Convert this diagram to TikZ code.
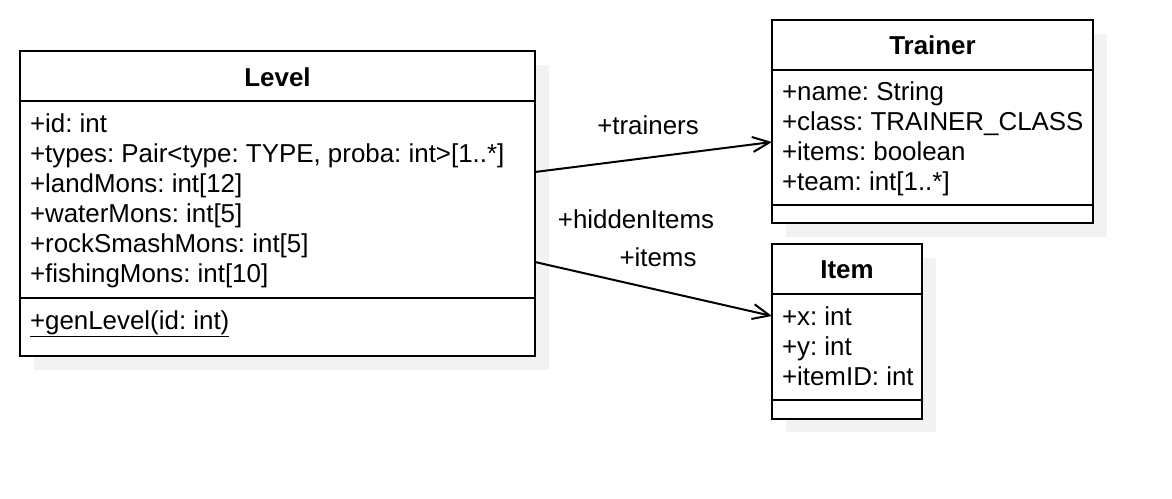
\documentclass[tikz,border=0pt]{standalone}
\usepackage{fontspec}
\setmainfont{Liberation Sans}
\frenchspacing
\usetikzlibrary{arrows.meta}
\begin{document}
\begin{tikzpicture}[x=1pt,y=-1pt,
  every node/.style={inner sep=0pt,outer sep=0pt,font=\fontsize{25.9}{30}\selectfont\frenchspacing},
  classbox/.style={draw=black,line width=2pt,fill=white,anchor=north west},
  shade/.style={fill=black!5,draw=none},
  divider/.style={line width=2pt},
  attr/.style={anchor=base west},
  title/.style={anchor=base,font=\fontsize{25.9}{30}\selectfont\bfseries},
  lbl/.style={anchor=base},
  assoc/.style={line width=2pt,-{Straight Barb[length=17pt,width=15pt,line width=2pt]}}
]
\useasboundingbox (0,0) rectangle (1172,498);
% shadows
\fill[shade] (34,65) rectangle (549,370);
\fill[shade] (786,34) rectangle (1107,237);
\fill[shade] (786,258) rectangle (936,432);
% Level
\node[classbox,minimum width=515pt,minimum height=305pt] (level) at (20,51) {};
\draw[divider] (20,101) -- (535,101);
\draw[divider] (20,298) -- (535,298);
\node[title] (levelt) at (277.5,86) {Level};
\node[attr] (l1) at (30,132) {+id: int};
\node[attr] (l2) at (30,162) {+types: Pair<type: TYPE, proba: int>[1..*]};
\node[attr] (l3) at (30,192) {+landMons: int[12]};
\node[attr] (l4) at (30,222) {+waterMons: int[5]};
\node[attr] (l5) at (30,252) {+rockSmashMons: int[5]};
\node[attr] (l6) at (30,282) {+fishingMons: int[10]};
\node[attr] (l7) at (30,329) {\underline{+genLevel(id: int)}};
% Trainer
\node[classbox,minimum width=321pt,minimum height=203pt] (trainer) at (772,20) {};
\draw[divider] (772,70) -- (1093,70);
\draw[divider] (772,205) -- (1093,205);
\node[title] (trainert) at (932.5,54) {Trainer};
\node[attr] (t1) at (782,100) {+name: String};
\node[attr] (t2) at (782,130) {+class: TRAINER\_CLASS};
\node[attr] (t3) at (782,160) {+items: boolean};
\node[attr] (t4) at (782,190) {+team: int[1..*]};
% Item
\node[classbox,minimum width=150pt,minimum height=175pt] (item) at (772,244) {};
\draw[divider] (772,294) -- (922,294);
\draw[divider] (772,400) -- (922,400);
\node[title] (itemt) at (847,278) {Item};
\node[attr] (i1) at (782,325) {+x: int};
\node[attr] (i2) at (782,355) {+y: int};
\node[attr] (i3) at (782,385) {+itemID: int};
% connectors
\coordinate (ls1) at (535,172);
\coordinate (ls2) at (535,262);
\coordinate (te) at (772,142);
\coordinate (ie) at (772,316);
\draw[assoc] (ls1) -- (te);
\draw[assoc] (ls2) -- (ie);
\node[lbl] (lt) at (648,134) {+trainers};
\node[lbl] (lh) at (636,228) {+hiddenItems};
\node[lbl] (li) at (658,266) {+items};
\end{tikzpicture}
\end{document}
